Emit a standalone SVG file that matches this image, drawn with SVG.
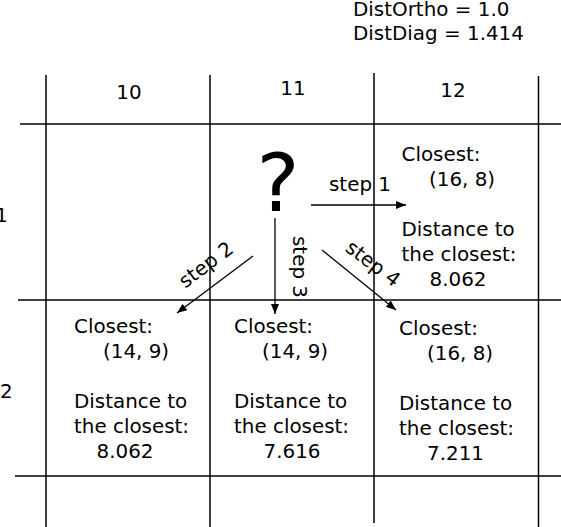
<svg xmlns="http://www.w3.org/2000/svg" width="561" height="527" viewBox="0 0 561 527">
<style>
text{font-family:"DejaVu Sans","Noto Sans",sans-serif;font-size:19.9px;fill:#000}
.grid line{stroke:#000;stroke-width:1.5}
.arr line{stroke:#000;stroke-width:1.3;marker-end:url(#ah)}
.m{text-anchor:middle}
.e{text-anchor:end}
</style>
<defs>
<marker id="ah" viewBox="0 0 10 8" refX="10" refY="4" markerWidth="10" markerHeight="8" markerUnits="userSpaceOnUse" orient="auto">
<path d="M0,0 L10,4 L0,8 Z" fill="#000"/>
</marker>
</defs>
<rect width="561" height="527" fill="#fff"/>
<g id="legend">
<text x="353" y="16">DistOrtho = 1.0</text>
<text x="353" y="39.5">DistDiag = 1.414</text>
</g>
<g id="grid" class="grid">
<line x1="46" y1="75" x2="46" y2="527"/>
<line x1="210" y1="75" x2="210" y2="527"/>
<line x1="374" y1="73" x2="374" y2="523"/>
<line x1="538.5" y1="76" x2="538.5" y2="527"/>
<line x1="20" y1="124" x2="561" y2="124"/>
<line x1="18" y1="300" x2="561" y2="300"/>
<line x1="15" y1="476" x2="561" y2="476"/>
</g>
<g id="labels">
<text class="m" x="129" y="99">10</text>
<text class="m" x="293" y="95">11</text>
<text class="m" x="453" y="97">12</text>
<text class="e" x="8" y="222">1</text>
<text x="0" y="398">2</text>
</g>
<g id="start">
<text class="m" x="278" y="211" style="font-size:81px">?</text>
</g>
<g id="cell-12-1">
<text x="401.5" y="161">Closest:</text>
<text x="429" y="186">(16, 8)</text>
<text x="401.5" y="236">Distance to</text>
<text x="401.5" y="261">the closest:</text>
<text class="m" x="458" y="286">8.062</text>
</g>
<g id="cell-10-2">
<text x="74" y="333">Closest:</text>
<text x="103" y="358">(14, 9)</text>
<text x="74" y="408">Distance to</text>
<text x="74" y="433">the closest:</text>
<text class="m" x="125" y="458">8.062</text>
</g>
<g id="cell-11-2">
<text x="234" y="333">Closest:</text>
<text x="262" y="358">(14, 9)</text>
<text x="234" y="408">Distance to</text>
<text x="234" y="433">the closest:</text>
<text class="m" x="292" y="458">7.616</text>
</g>
<g id="cell-12-2">
<text x="399" y="335">Closest:</text>
<text x="427" y="360">(16, 8)</text>
<text x="399" y="410">Distance to</text>
<text x="399" y="435">the closest:</text>
<text class="m" x="455.5" y="460">7.211</text>
</g>
<g id="connectors" class="arr">
<line x1="311" y1="205" x2="406" y2="205"/>
<line x1="253" y1="256" x2="177" y2="313"/>
<line x1="275" y1="218" x2="275" y2="314"/>
<line x1="322" y1="250" x2="396" y2="310"/>
</g>
<g id="step-labels">
<text x="329" y="191">step 1</text>
<text class="m" transform="translate(210,270) rotate(-37)">step 2</text>
<text transform="translate(292.5,236) rotate(90)">step 3</text>
<text class="m" transform="translate(369,269) rotate(37)">step 4</text>
</g>
</svg>
